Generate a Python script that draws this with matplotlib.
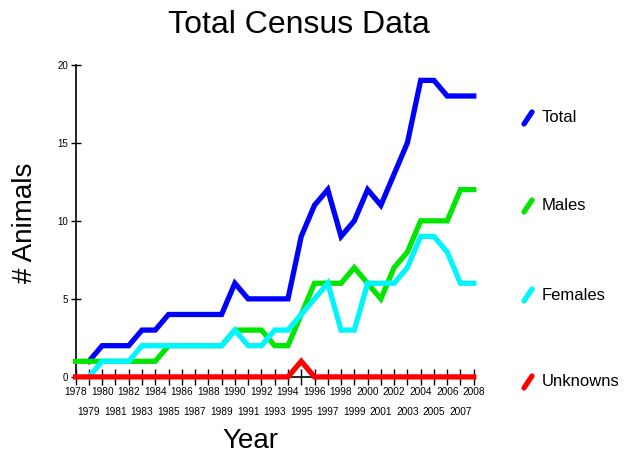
import matplotlib
matplotlib.use('Agg')
import matplotlib.pyplot as plt
from matplotlib.lines import Line2D
import numpy as np

# census counts per year, nan where a series has no point
years = list(range(1978, 2009))
total = [np.nan, 1, 2, 2, 2, 3, 3, 4, 4, 4, 4, 4, 6, 5, 5, 5, 5,
         9, 11, 12, 9, 10, 12, 11, 13, 15, 19, 19, 18, 18, 18]
males = [1, 1, 1, 1, 1, 1, 1, 2, 2, 2, 2, 2, 3, 3, 3, 2, 2,
         4, 6, 6, 6, 7, 6, 5, 7, 8, 10, 10, 10, 12, 12]
females = [np.nan, 0, 1, 1, 1, 2, 2, 2, 2, 2, 2, 2, 3, 2, 2, 3, 3,
           4, 5, 6, 3, 3, 6, 6, 6, 7, 9, 9, 8, 6, 6]
unknowns = [0] * 17 + [1] + [0] * 13

series_names = ['Total', 'Males', 'Females', 'Unknowns']
series_colors = ['#0000ff', '#00e600', '#00f6ff', '#ff0000']

plt.rcParams['font.family'] = ['Liberation Sans', 'DejaVu Sans']

fig = plt.figure(figsize=(6.25, 4.53), dpi=100)
ax = fig.add_axes([0.121, 0.168, 0.637, 0.689])

for name, vals, col in zip(series_names, [total, males, females, unknowns], series_colors):
    ax.plot(years, vals, color=col, linewidth=3.8, solid_joinstyle='miter',
            clip_on=False, zorder=3)

ax.set_xlim(1978, 2008)
ax.set_ylim(0, 20)
for s in ['top', 'right']:
    ax.spines[s].set_visible(False)
ax.spines['left'].set_linewidth(1.2)
ax.spines['bottom'].set_linewidth(1.2)

# even years on the first row, odd years on the second
even = [y for y in years if y % 2 == 0]
odd = [y for y in years if y % 2 == 1]
ax.set_xticks(even)
ax.set_xticklabels([str(y) for y in even])
ax.set_xticks(odd, minor=True)
ax.set_xticklabels([str(y) for y in odd], minor=True)
ax.tick_params(axis='x', which='both', direction='inout', length=11, width=1,
               labelsize=7.3, colors='black')
ax.tick_params(axis='x', which='major', pad=2)
ax.tick_params(axis='x', which='minor', pad=16)

ax.set_yticks([0, 5, 10, 15, 20])
ax.tick_params(axis='y', direction='inout', length=6.5, width=1, labelsize=7, pad=2)

ax.set_xlabel('Year', fontsize=20)
ax.xaxis.set_label_coords(0.44, -0.165)
ax.set_ylabel('# Animals', fontsize=20)
ax.yaxis.set_label_coords(-0.095, 0.494)
fig.text(0.478, 0.945, 'Total Census Data', fontsize=23, ha='center', va='center')

# legend on the right with short slanted strokes
legend_y = [118, 206, 295, 382]
for name, col, py in zip(series_names, series_colors, legend_y):
    fy = 1 - py / 453
    fig.add_artist(Line2D([524 / 625, 532 / 625], [fy - 6 / 453, fy + 6 / 453],
                          color=col, linewidth=3.8, solid_capstyle='round'))
    fig.text(542 / 625, fy, name, fontsize=12, va='center', ha='left')

fig.savefig('out.png', dpi=100)
